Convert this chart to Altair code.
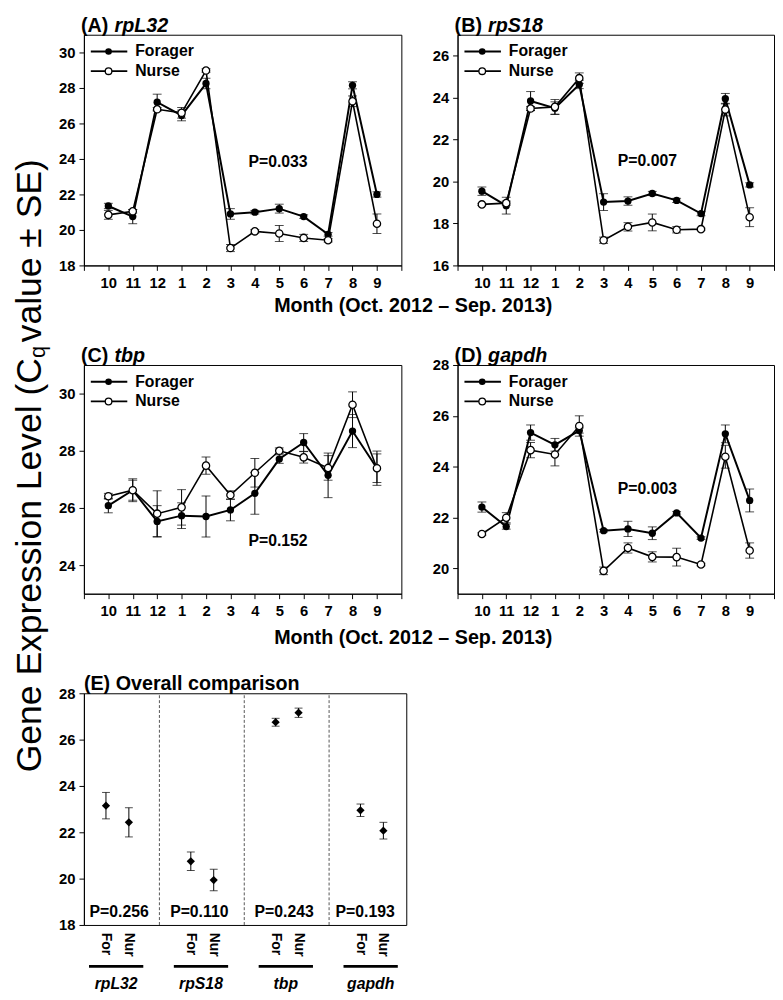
import altair as alt
import pandas as pd

FONT = "Liberation Sans"

months = ["10", "11", "12", "1", "2", "3", "4", "5", "6", "7", "8", "9"]
groups = ["Forager", "Nurse"]
x_title = "Month (Oct. 2012 \u2013 Sep. 2013)"

# (A) rpL32
rpl32_forager = [21.35, 20.75, 27.2, 26.45, 28.25, 20.9, 21.0, 21.2, 20.75, 19.75, 28.15, 22.0]
rpl32_forager_se = [0.15, 0.4, 0.45, 0.3, 0.3, 0.3, 0.1, 0.25, 0.1, 0.1, 0.2, 0.15]
rpl32_nurse = [20.85, 21.05, 26.8, 26.6, 28.98, 18.98, 19.92, 19.8, 19.55, 19.42, 27.25, 20.35]
rpl32_nurse_se = [0.25, 0.1, 0.1, 0.3, 0.1, 0.2, 0.1, 0.45, 0.2, 0.1, 0.3, 0.55]

# (B) rpS18
rps18_forager = [19.54, 18.85, 23.84, 23.5, 24.63, 19.02, 19.07, 19.43, 19.1, 18.47, 23.95, 19.84]
rps18_forager_se = [0.2, 0.4, 0.45, 0.3, 0.2, 0.4, 0.2, 0.1, 0.1, 0.1, 0.25, 0.1]
rps18_nurse = [18.91, 18.97, 23.48, 23.56, 24.93, 17.2, 17.84, 18.05, 17.7, 17.73, 23.43, 18.3]
rps18_nurse_se = [0.05, 0.1, 0.1, 0.35, 0.25, 0.15, 0.2, 0.4, 0.15, 0.05, 0.3, 0.45]

# (C) tbp
tbp_forager = [26.08, 26.62, 25.53, 25.73, 25.7, 25.93, 26.51, 27.71, 28.29, 27.14, 28.69, 27.39]
tbp_forager_se = [0.25, 0.4, 0.55, 0.45, 0.72, 0.38, 0.73, 0.15, 0.31, 0.78, 0.58, 0.6]
tbp_nurse = [26.41, 26.62, 25.8, 26.02, 27.48, 26.45, 27.23, 28.0, 27.77, 27.4, 29.61, 27.39]
tbp_nurse_se = [0.1, 0.35, 0.8, 0.62, 0.3, 0.15, 0.5, 0.1, 0.2, 0.43, 0.45, 0.5]

# (D) gapdh
gapdh_forager = [22.41, 21.64, 25.34, 24.86, 25.42, 21.48, 21.55, 21.38, 22.18, 21.19, 25.29, 22.67]
gapdh_forager_se = [0.2, 0.1, 0.3, 0.25, 0.1, 0.05, 0.3, 0.25, 0.05, 0.05, 0.35, 0.45]
gapdh_nurse = [21.35, 21.99, 24.65, 24.48, 25.6, 19.9, 20.8, 20.45, 20.44, 20.15, 24.39, 20.7]
gapdh_nurse_se = [0.05, 0.2, 0.3, 0.45, 0.4, 0.15, 0.2, 0.2, 0.35, 0.05, 0.45, 0.3]

# (E) overall
genes = ["rpL32", "rpS18", "tbp", "gapdh"]
short_groups = ["For", "Nur"]
overall_forager = [23.15, 20.75, 26.75, 22.95]
overall_forager_se = [0.57, 0.4, 0.17, 0.27]
overall_nurse = [22.43, 19.94, 27.16, 22.07]
overall_nurse_se = [0.63, 0.46, 0.2, 0.36]
overall_p = ["P=0.256", "P=0.110", "P=0.243", "P=0.193"]

one = pd.DataFrame({"k": [0]})
label_expr = "[''," + ",".join("'%s'" % m for m in months) + ",''][datum.value]"


def txt(text, x, y, size=16, weight="bold", style="normal", align="left",
        baseline="alphabetic", angle=0):
    kw = dict(text=text, font=FONT, fontSize=size, fontWeight=weight, fontStyle=style,
              align=align, baseline=baseline, color="black")
    if angle:
        kw["angle"] = angle
    return alt.Chart(one).mark_text(**kw).encode(x=alt.value(x), y=alt.value(y))


def month_panel(letter, gene, fm, fs, nm, ns, ydom, yvals, ptxt, px, py, w, h,
                extra=()):
    def frame(m, s):
        return pd.DataFrame({"pos": list(range(1, 13)), "value": m,
                             "lo": [a - b for a, b in zip(m, s)],
                             "hi": [a + b for a, b in zip(m, s)]})
    fdf, ndf = frame(fm, fs), frame(nm, ns)
    xax = alt.Axis(values=list(range(14)), labelExpr=label_expr, title=None, grid=False,
                   labelOverlap=False, labelPadding=5)
    yax = alt.Axis(values=yvals, title=None, grid=False, labelOverlap=False)
    xsc = alt.Scale(domain=[0, 13], nice=False, zero=False)
    ysc = alt.Scale(domain=ydom, nice=False, zero=False)

    def X():
        return alt.X("pos:Q", scale=xsc, axis=xax)

    def Y(f):
        return alt.Y(f + ":Q", scale=ysc, axis=yax)

    layers = []
    for d, sw in ((fdf, 2), (ndf, 1.6)):
        layers.append(alt.Chart(d).mark_line(color="black", strokeWidth=sw).encode(x=X(), y=Y("value")))
    for d in (fdf, ndf):
        layers.append(alt.Chart(d).mark_rule(color="black", strokeWidth=1).encode(
            x=X(), y=Y("lo"), y2="hi:Q"))
        for f in ("lo", "hi"):
            layers.append(alt.Chart(d).mark_tick(color="black", orient="horizontal", size=9,
                                                 thickness=1).encode(x=X(), y=Y(f)))
    layers.append(alt.Chart(fdf).mark_point(shape="circle", filled=True, color="black", size=55,
                                            opacity=1).encode(x=X(), y=Y("value")))
    layers.append(alt.Chart(ndf).mark_point(shape="circle", filled=True, fill="white", stroke="black",
                                            strokeWidth=1.3, size=55, opacity=1).encode(x=X(), y=Y("value")))
    # p value
    layers.append(alt.Chart(one).mark_text(text=ptxt, font=FONT, fontSize=16, fontWeight="bold",
                                           color="black").encode(
        x=alt.datum(px, scale=xsc, axis=xax), y=alt.datum(py, scale=ysc, axis=yax)))
    # legend
    for i, g in enumerate(groups):
        yy = 17 + 20 * i
        layers.append(alt.Chart(one).mark_rule(color="black", strokeWidth=1.8).encode(
            x=alt.value(7), x2=alt.value(44), y=alt.value(yy)))
        if i == 0:
            layers.append(alt.Chart(one).mark_point(shape="circle", filled=True, color="black",
                                                    size=45, opacity=1).encode(
                x=alt.value(25), y=alt.value(yy)))
        else:
            layers.append(alt.Chart(one).mark_point(shape="circle", filled=True, fill="white",
                                                    stroke="black", strokeWidth=1.3, size=45,
                                                    opacity=1).encode(
                x=alt.value(25), y=alt.value(yy)))
        layers.append(txt(g, 52, yy, size=16, baseline="middle"))
    # panel title
    layers.append(txt(letter, -3, -3, size=20))
    layers.append(txt(gene, 31, -3, size=20, style="italic"))
    layers.extend(extra)
    return alt.layer(*layers).properties(width=w, height=h)


panel_a = month_panel("(A)", "rpL32", rpl32_forager, rpl32_forager_se, rpl32_nurse, rpl32_nurse_se,
                      [18, 31], [18, 20, 22, 24, 26, 28, 30], "P=0.033", 7.95, 23.85, 322, 234,
                      extra=[txt(x_title, 334, 281, size=20, align="center"),
                             alt.Chart(one).mark_point(opacity=0, size=1).encode(
                                 x=alt.value(-76), y=alt.value(-18))])
panel_b = month_panel("(B)", "rpS18", rps18_forager, rps18_forager_se, rps18_nurse, rps18_nurse_se,
                      [16, 27], [16, 18, 20, 22, 24, 26], "P=0.007", 7.8, 20.96, 321, 234)

big_label = [
    txt("Gene Expression Level (C", -44, -7, size=36, weight="normal", align="right", angle=270),
    txt("q", -39, -7, size=22, weight="normal", align="left", angle=270),
    txt("value \u00b1 SE)", -44, -23, size=36, weight="normal", align="left", angle=270),
]
panel_c = month_panel("(C)", "tbp", tbp_forager, tbp_forager_se, tbp_nurse, tbp_nurse_se,
                      [23, 31], [24, 26, 28, 30], "P=0.152", 7.95, 24.83, 322, 232,
                      extra=[txt(x_title, 334, 283, size=20, align="center")] + big_label)
panel_d = month_panel("(D)", "gapdh", gapdh_forager, gapdh_forager_se, gapdh_nurse, gapdh_nurse_se,
                      [19, 28], [20, 22, 24, 26, 28], "P=0.003", 7.8, 23.12, 321, 232)

# ---- panel E ----
rows = []
for gi, gene in enumerate(genes):
    for si, (m, s) in enumerate(((overall_forager, overall_forager_se),
                                 (overall_nurse, overall_nurse_se))):
        rows.append({"gene": gene, "grp": short_groups[si], "xpos": gi + (0.26 if si == 0 else 0.53),
                     "value": m[gi], "lo": m[gi] - s[gi], "hi": m[gi] + s[gi]})
edf = pd.DataFrame(rows)
dividers = [gi + 0.89 for gi in range(len(genes) - 1)]
bnds = [0] + dividers + [3.8]
gdf = pd.DataFrame({"gene": genes, "p": overall_p,
                    "pc": [(bnds[i] + bnds[i + 1]) / 2 - 0.03 for i in range(len(genes))],
                    "b0": [gi + 0.06 for gi in range(len(genes))],
                    "b1": [gi + 0.70 for gi in range(len(genes))],
                    "gc": [gi + 0.38 for gi in range(len(genes))]})
ddf = pd.DataFrame({"d": dividers})

exs = alt.Scale(domain=[0, 3.8], nice=False, zero=False)
eys = alt.Scale(domain=[18, 28], nice=False, zero=False)
eyax = alt.Axis(values=[18, 20, 22, 24, 26, 28], title=None, grid=False, labelOverlap=False)


def EX(f):
    return alt.X(f + ":Q", scale=exs, axis=None)


def EY(f):
    return alt.Y(f + ":Q", scale=eys, axis=eyax)


e_layers = [
    alt.Chart(ddf).mark_rule(color="#555555", strokeWidth=1, strokeDash=[3, 2]).encode(
        x=EX("d"), y=alt.datum(18, scale=eys, axis=eyax), y2=alt.datum(28)),
    alt.Chart(edf).mark_rule(color="black", strokeWidth=1).encode(x=EX("xpos"), y=EY("lo"), y2="hi:Q"),
    alt.Chart(edf).mark_tick(color="black", orient="horizontal", size=8, thickness=1).encode(
        x=EX("xpos"), y=EY("lo")),
    alt.Chart(edf).mark_tick(color="black", orient="horizontal", size=8, thickness=1).encode(
        x=EX("xpos"), y=EY("hi")),
    alt.Chart(edf).mark_point(shape="diamond", filled=True, color="black", size=70, opacity=1).encode(
        x=EX("xpos"), y=EY("value")),
    alt.Chart(gdf).mark_text(font=FONT, fontSize=16, fontWeight="bold", color="black",
                             baseline="alphabetic").encode(
        x=EX("pc"), y=alt.datum(18.34, scale=eys, axis=eyax), text="p:N"),
    alt.Chart(edf).mark_text(font=FONT, fontSize=14, fontWeight="bold", color="black", angle=90,
                             align="left", baseline="middle").encode(
        x=EX("xpos"), y=alt.value(243), text="grp:N"),
    alt.Chart(gdf).mark_rule(color="black", strokeWidth=3).encode(
        x=EX("b0"), x2="b1:Q", y=alt.value(277)),
    alt.Chart(gdf).mark_text(font=FONT, fontSize=16, fontWeight="bold", fontStyle="italic",
                             color="black", align="center").encode(
        x=EX("gc"), y=alt.value(295), text="gene:N"),
    txt("(E) Overall comparison", 0, -3, size=20),
]
panel_e = alt.layer(*e_layers).properties(width=327, height=235)

chart = alt.concat(panel_a, panel_b, panel_c, panel_d, panel_e, columns=2,
                   spacing=alt.RowColnumber(row=101, column=52), bounds="flush").properties(
    padding=0
).configure_view(
    stroke="black", strokeWidth=1
).configure_axis(
    labelFont=FONT, labelFontSize=15, labelFontWeight="bold", labelColor="black",
    domainColor="black", tickColor="black", tickSize=5, labelPadding=4, grid=False,
    labelOverlap=False
)

chart.save("out.html", embed_options={"renderer": "svg", "actions": False})
